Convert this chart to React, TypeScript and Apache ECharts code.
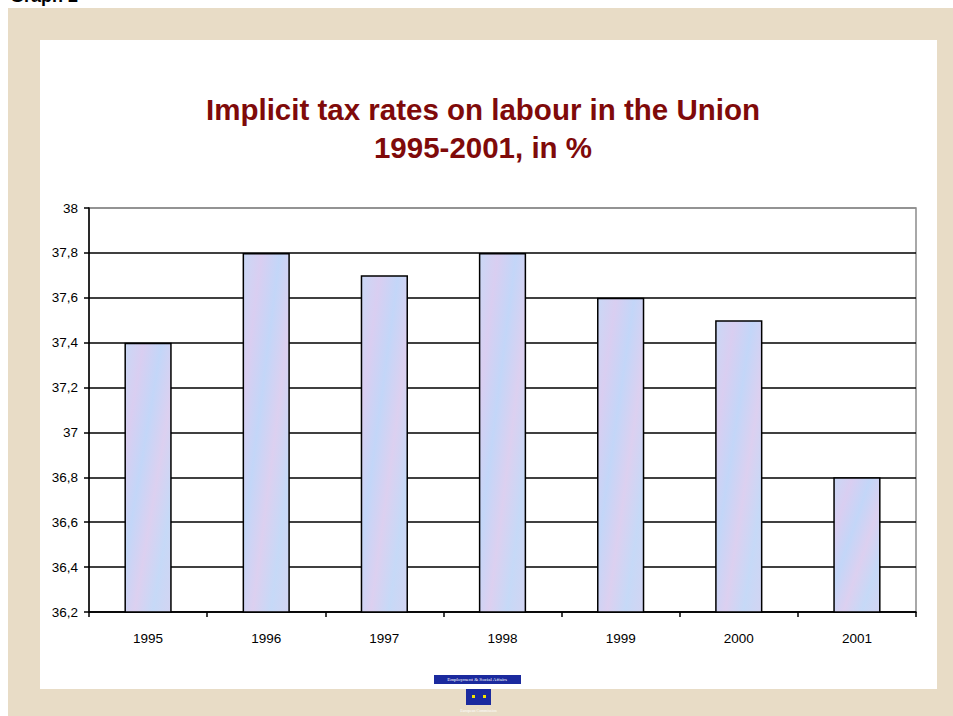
import React, { useEffect, useRef } from "react";
import * as echarts from "echarts";

const categories = ["1995", "1996", "1997", "1998", "1999", "2000", "2001"];
const values = [37.4, 37.8, 37.7, 37.8, 37.6, 37.5, 36.8];
const yMin = 36.2;
const yMax = 38;
const yInterval = 0.2;
const titleLines = ["Implicit tax rates on labour in the Union", "1995-2001, in %"];

export default function App() {
  const ref = useRef<HTMLDivElement>(null);
  useEffect(() => {
    const chart = echarts.init(ref.current!, null, { renderer: "svg" });
    const splitColors = Array.from({ length: 10 }, (_, i) => (i === 9 ? "#8c8c8c" : "#000"));
    chart.setOption({
      animation: false,
      backgroundColor: "#ffffff",
      graphic: [
        { type: "rect", z: -10, shape: { x: 8, y: 8, width: 945, height: 708 }, style: { fill: "#E8DCC6" } },
        { type: "rect", z: -9, shape: { x: 40, y: 40, width: 897, height: 649 }, style: { fill: "#ffffff" } },
        {
          type: "text", left: 10, top: -13,
          style: { text: "Graph 2", font: "bold 18px Arial, 'Liberation Sans', sans-serif", fill: "#000" },
        },
        {
          type: "text", x: 483, y: 109,
          style: {
            text: titleLines[0], font: "bold 29.5px Arial, 'Liberation Sans', sans-serif",
            fill: "#7F0A0A", align: "center", verticalAlign: "middle",
          },
        },
        {
          type: "text", x: 483, y: 147,
          style: {
            text: titleLines[1], font: "bold 29.5px Arial, 'Liberation Sans', sans-serif",
            fill: "#7F0A0A", align: "center", verticalAlign: "middle",
          },
        },
        { type: "rect", shape: { x: 434, y: 675, width: 87, height: 9 }, style: { fill: "#1B2A9E" } },
        {
          type: "text", x: 477, y: 679.5,
          style: { text: "Employment & Social Affairs", font: "5px 'Liberation Serif', serif", fill: "#ffffff", align: "center", verticalAlign: "middle" },
        },
        { type: "rect", shape: { x: 466, y: 689, width: 25, height: 16 }, style: { fill: "#1B2A9E" } },
        { type: "rect", shape: { x: 472, y: 695, width: 3, height: 3 }, style: { fill: "#F5E400" } },
        { type: "rect", shape: { x: 483, y: 695, width: 3, height: 3 }, style: { fill: "#F5E400" } },
        {
          type: "text", x: 478.5, y: 710,
          style: { text: "European Commission", font: "4px 'Liberation Serif', serif", fill: "#ffffff", align: "center", verticalAlign: "middle" },
        },
      ],
      grid: {
        left: 89, top: 208, right: 37, bottom: 104,
        show: true, borderColor: "#8c8c8c", borderWidth: 1.5, backgroundColor: "transparent",
      },
      xAxis: {
        type: "category",
        data: categories,
        axisLine: { lineStyle: { color: "#000", width: 1.5 } },
        axisTick: { show: true, length: 5, lineStyle: { color: "#000", width: 1.5 } },
        axisLabel: { color: "#000", fontSize: 13.5, fontFamily: "Arial, 'Liberation Sans', sans-serif", margin: 19 },
      },
      yAxis: {
        type: "value",
        min: yMin,
        max: yMax,
        interval: yInterval,
        axisLine: { show: true, lineStyle: { color: "#000", width: 1.5 } },
        axisTick: { show: true, length: 5, lineStyle: { color: "#000", width: 1.5 } },
        axisLabel: {
          color: "#000", fontSize: 13.5, fontFamily: "Arial, 'Liberation Sans', sans-serif", margin: 11,
          formatter: (v: number) => String(Number(v.toFixed(1))).replace(".", ","),
        },
        splitLine: { show: true, lineStyle: { color: splitColors, width: 1.5 } },
      },
      series: [
        {
          type: "bar",
          data: values,
          barWidth: "40%",
          itemStyle: {
            borderColor: "#000",
            borderWidth: 1.5,
            color: new echarts.graphic.LinearGradient(0, 0, 1, 1, [
              { offset: 0, color: "#C9D8F6" },
              { offset: 0.2, color: "#D9CEF1" },
              { offset: 0.4, color: "#C3D6F8" },
              { offset: 0.6, color: "#DCD0F0" },
              { offset: 0.8, color: "#C6D9F7" },
              { offset: 1, color: "#D3D4F2" },
            ]),
          },
        },
      ],
    });
    return () => chart.dispose();
  }, []);
  return <div ref={ref} style={{ position: "fixed", left: 0, top: 0, width: 953, height: 716 }} />;
}
